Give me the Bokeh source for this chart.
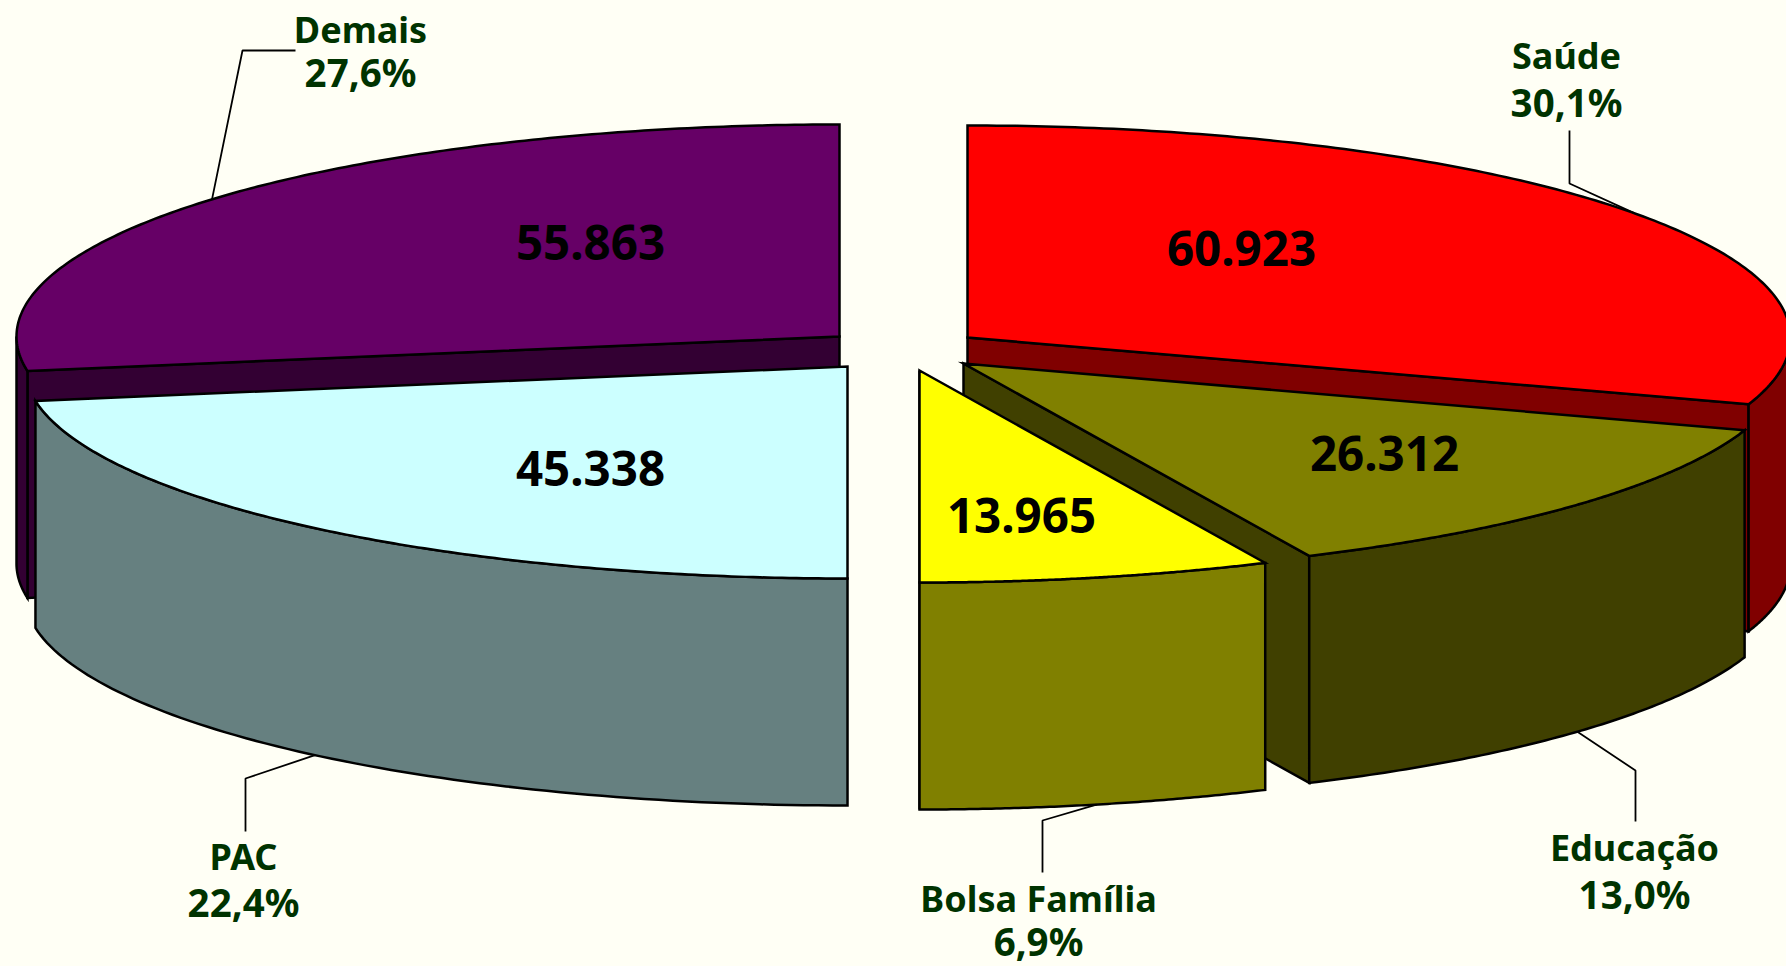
import numpy as np
from bokeh.plotting import figure
from bokeh.models import Range1d
from bokeh.core.properties import value
from bokeh.embed import file_html
from bokeh.resources import INLINE

# ---- data ----
categories = ["Saúde", "Educação", "Bolsa Família", "PAC", "Demais"]
values = [60923, 26312, 13965, 45338, 55863]
top_colors = ["#FF0000", "#808000", "#FFFF00", "#CCFFFF", "#660066"]
side_colors = ["#800000", "#404000", "#808000", "#668080", "#330033"]

# ---- layout (page pixels of the reference) ----
BG = "#FFFFF5"
RX, RY, DEPTH = 823, 212, 227
apex = {"Saúde": (967, 337), "Educação": (963, 363), "Bolsa Família": (919, 370),
        "PAC": (847, 366), "Demais": (839, 336)}
value_pos = {"Saúde": (1241, 248), "Educação": (1384, 453), "Bolsa Família": (1021, 515),
             "PAC": (590, 468), "Demais": (590, 242)}
label_pos = {"Saúde": (1566, 55, 101), "Educação": (1634, 847, 893), "Bolsa Família": (1038, 898, 940),
             "PAC": (243, 856, 901), "Demais": (360, 29, 71)}
elbows = {"Saúde": [(1569, 130), (1569, 183)], "Educação": [(1635, 821), (1635, 770)],
          "Bolsa Família": [(1042, 872), (1042, 820)], "PAC": [(245, 831), (245, 778)],
          "Demais": [(295, 50), (242, 50)]}
bottom_anchor = {"Saúde": False, "Educação": True, "Bolsa Família": True, "PAC": True, "Demais": False}

# ---- build ----
total = sum(values)
ends = np.cumsum(values) / total * 360.0
starts = np.concatenate([[0.0], ends[:-1]])


def rim(cx, cy, a0, a1, dy=0.0, n=80):
    t = np.radians(np.linspace(a0, a1, n))
    return cx + RX * np.sin(t), cy - RY * np.cos(t) + dy


p = figure(width=1786, height=966, output_backend="svg", toolbar_location=None,
           x_range=Range1d(0, 1786), y_range=Range1d(966, 0),
           background_fill_color=BG, border_fill_color=BG, outline_line_color=None,
           min_border=0)
p.axis.visible = False
p.grid.visible = False
p.xaxis.visible = False
p.yaxis.visible = False

LW = 2.5


def poly(xs, ys, color):
    p.patch(list(xs), list(ys), fill_color=color, line_color="black", line_width=LW, line_join="miter")


def draw_slice(i):
    name = categories[i]
    cx, cy = apex[name]
    a0, a1 = starts[i], ends[i]
    # cut walls that face the viewer
    for a in (a0, a1):
        s = np.sin(np.radians(a)); c = np.cos(np.radians(a))
        face_visible = (a == a1 and a1 < 180) or (a == a0 and a0 > 180)
        if face_visible:
            ex, ey = cx + RX * s, cy - RY * c
            poly([cx, ex, ex, cx], [cy, ey, ey + DEPTH, cy + DEPTH], side_colors[i])
    # outer wall: the part of the rim on the near half
    w0, w1 = max(a0, 90), min(a1, 270)
    if w1 > w0:
        x, y = rim(cx, cy, w0, w1)
        poly(np.r_[x, x[::-1]], np.r_[y, (y + DEPTH)[::-1]], side_colors[i])
    # top face
    x, y = rim(cx, cy, a0, a1, n=160)
    poly(np.r_[cx, x], np.r_[cy, y], top_colors[i])


for i in [4, 0, 1, 2, 3]:
    draw_slice(i)

# leaders
for i, name in enumerate(categories):
    cx, cy = apex[name]
    mid = np.radians((starts[i] + ends[i]) / 2)
    ax = cx + RX * np.sin(mid)
    ay = cy - RY * np.cos(mid) + (DEPTH if bottom_anchor[name] else 0)
    pts = elbows[name] + [(ax, ay)]
    p.line([q[0] for q in pts], [q[1] for q in pts], line_color="black", line_width=1.8)

# texts
for i, name in enumerate(categories):
    vx, vy = value_pos[name]
    p.text([vx], [vy], text=[f"{values[i]:,}".replace(",", ".")], text_align="center",
           text_baseline="middle", text_font=value("Noto Sans"), text_font_size="47.5px",
           text_font_style="bold", text_color="black")
    lx, y1, y2 = label_pos[name]
    pct = f"{values[i] / total * 100:.1f}".replace(".", ",") + "%"
    for txt, yy, fs in ((name, y1, "36px"), (pct, y2, "38.5px")):
        p.text([lx], [yy], text=[txt], text_align="center", text_baseline="middle",
               text_font=value("Noto Sans"), text_font_size=fs, text_font_style="bold",
               text_color="#003300")

html = file_html(p, INLINE)
html = html.replace("<head>", f"<head><style>html,body{{background:{BG};overflow:hidden}}</style>", 1)
open("out.html", "w").write(html)
